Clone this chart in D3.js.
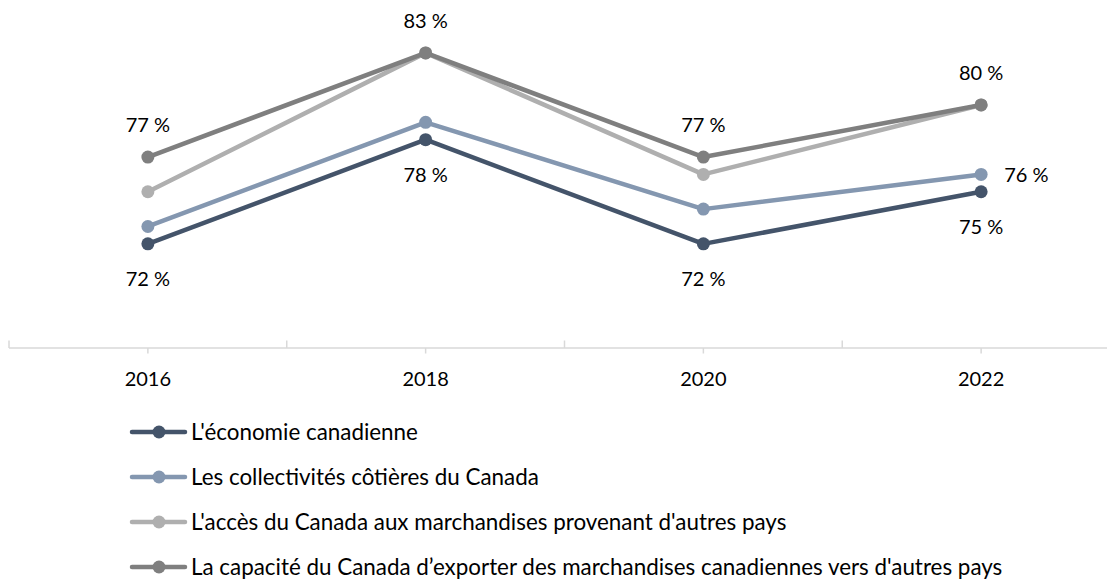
<!DOCTYPE html>
<html>
<head>
<meta charset="utf-8">
<script src="https://cdn.jsdelivr.net/npm/d3@7"></script>
<style>
  html, body { margin: 0; padding: 0; background: #fff; }
  svg { display: block; }
  text { font-family: Lato, "Noto Sans", sans-serif; fill: #000; }
</style>
</head>
<body>
<svg id="chart" width="1107" height="579"></svg>
<script>
const categories = ["2016", "2018", "2020", "2022"];
const seriesNames = [
  "L'économie canadienne",
  "Les collectivités côtières du Canada",
  "L'accès du Canada aux marchandises provenant d'autres pays",
  "La capacité du Canada d’exporter des marchandises canadiennes vers d'autres pays"
];
const economie = [72, 78, 72, 75];
const collectivites = [73, 79, 74, 76];
const acces = [75, 83, 76, 80];
const capacite = [77, 83, 77, 80];
const seriesColors = ["#44546A", "#8497B0", "#AFAFAF", "#7F7F7F"];

const allSeries = [economie, collectivites, acces, capacite];

const svg = d3.select("#chart");

const axisY = 348;
const x = d3.scaleBand().domain(categories).range([9, 1120]).paddingInner(0).paddingOuter(0);
const cx = c => x(c) + x.bandwidth() / 2;
const y = d3.scaleLinear().domain([66, 84]).range([axisY, axisY - 18 * 17.36]);

// axis
const axisG = svg.append("g");
axisG.append("line")
  .attr("x1", x.range()[0]).attr("x2", x.range()[1])
  .attr("y1", axisY).attr("y2", axisY)
  .attr("stroke", "#D9D9D9").attr("stroke-width", 1.5);
const boundaries = categories.map(c => x(c)).concat([x.range()[1]]);
axisG.selectAll(".btick").data(boundaries).enter().append("line")
  .attr("x1", d => d).attr("x2", d => d)
  .attr("y1", axisY - 7.5).attr("y2", axisY)
  .attr("stroke", "#D9D9D9").attr("stroke-width", 1.5);
axisG.selectAll(".ctick").data(categories).enter().append("line")
  .attr("x1", d => cx(d)).attr("x2", d => cx(d))
  .attr("y1", axisY).attr("y2", axisY + 5.5)
  .attr("stroke", "#D9D9D9").attr("stroke-width", 1.5);
axisG.selectAll(".clabel").data(categories).enter().append("text")
  .attr("x", d => cx(d)).attr("y", 386)
  .attr("text-anchor", "middle")
  .attr("font-size", 20)
  .text(d => d);

// lines
const line = d3.line().x((d, i) => cx(categories[i])).y(d => y(d));
allSeries.forEach((s, k) => {
  const g = svg.append("g");
  g.append("path").datum(s)
    .attr("d", line)
    .attr("fill", "none")
    .attr("stroke", seriesColors[k])
    .attr("stroke-width", 4.5)
    .attr("stroke-linejoin", "round")
    .attr("stroke-linecap", "round");
  g.selectAll("circle").data(s).enter().append("circle")
    .attr("cx", (d, i) => cx(categories[i]))
    .attr("cy", d => y(d))
    .attr("r", 6.5)
    .attr("fill", seriesColors[k]);
});

const fmt = v => v + " %";
// labels: top series above, bottom series below, second series' last point right
svg.append("g").selectAll("text").data(capacite).enter().append("text")
  .attr("x", (d, i) => cx(categories[i]))
  .attr("y", d => y(d) - 25)
  .attr("text-anchor", "middle").attr("font-size", 20)
  .text(fmt);
svg.append("g").selectAll("text").data(economie).enter().append("text")
  .attr("x", (d, i) => cx(categories[i]))
  .attr("y", d => y(d) + 42)
  .attr("text-anchor", "middle").attr("font-size", 20)
  .text(fmt);
const lastI = categories.length - 1;
svg.append("text")
  .attr("x", cx(categories[lastI]) + 23)
  .attr("y", y(collectivites[lastI]) + 8)
  .attr("text-anchor", "start").attr("font-size", 20)
  .text(fmt(collectivites[lastI]));

// legend
const legend = svg.append("g");
seriesNames.forEach((name, k) => {
  const ly = 432 + k * 45;
  const g = legend.append("g");
  g.append("line").attr("x1", 132).attr("x2", 185).attr("y1", ly).attr("y2", ly)
    .attr("stroke", seriesColors[k]).attr("stroke-width", 4.5).attr("stroke-linecap", "round");
  g.append("circle").attr("cx", 159).attr("cy", ly).attr("r", 6.5).attr("fill", seriesColors[k]);
  g.append("text").attr("x", 191).attr("y", ly + 8).attr("font-size", 22.4).text(name);
});
</script>
</body>
</html>
